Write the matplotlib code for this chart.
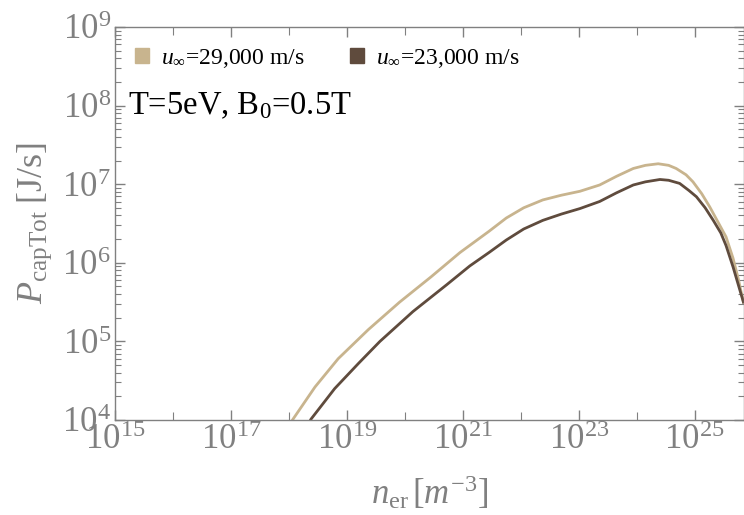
import numpy as np
import matplotlib
matplotlib.use("Agg")
import matplotlib.pyplot as plt
from matplotlib.patches import Patch
from matplotlib.ticker import LogLocator, FixedLocator, NullFormatter

plt.rcParams['font.family'] = ['Liberation Serif', 'DejaVu Serif']
plt.rcParams['mathtext.fontset'] = 'custom'
plt.rcParams['mathtext.rm'] = 'Liberation Serif'
plt.rcParams['mathtext.it'] = 'Liberation Serif:italic'
plt.rcParams['mathtext.bf'] = 'Liberation Serif:bold'

# data (log10 values)
log_n_fast = [17.95, 18.07, 18.45, 18.85, 19.37, 19.91, 20.45, 20.95, 21.45, 21.75, 22.05, 22.38, 22.7, 23.02,
              23.36, 23.65, 23.94, 24.15, 24.37, 24.55, 24.68, 24.85, 24.97, 25.12, 25.26, 25.4, 25.54, 25.66,
              25.75, 25.84]
log_p_fast = [3.87, 4.01, 4.42, 4.78, 5.15, 5.50, 5.82, 6.13, 6.40, 6.57, 6.70, 6.80, 6.86, 6.91,
              6.99, 7.10, 7.20, 7.24, 7.26, 7.24, 7.20, 7.12, 7.03, 6.88, 6.71, 6.52, 6.33, 6.06,
              5.80, 5.50]
log_n_slow = [18.28, 18.38, 18.79, 19.2, 19.57, 20.14, 20.72, 21.12, 21.45, 21.75, 22.05, 22.38, 22.7, 23.02,
              23.36, 23.65, 23.94, 24.15, 24.40, 24.55, 24.74, 24.9, 25.03, 25.18, 25.32, 25.45, 25.54, 25.66,
              25.78, 25.84]
log_p_slow = [3.87, 4.01, 4.40, 4.72, 5.00, 5.38, 5.72, 5.96, 6.13, 6.29, 6.43, 6.54, 6.62, 6.69,
              6.78, 6.89, 6.99, 7.03, 7.06, 7.05, 7.01, 6.92, 6.84, 6.70, 6.54, 6.38, 6.22, 5.95,
              5.65, 5.50]
labels = [r"$u_{\infty}$=29,000 m/s", r"$u_{\infty}$=23,000 m/s"]
colors = ["#c8b48e", "#5f4b3d"]

fig = plt.figure(figsize=(7.44, 5.15), dpi=100)
ax = fig.add_axes([115/744, 95/515, (744-115)/744, (420-27)/515])

ax.plot(10**np.array(log_n_fast), 10**np.array(log_p_fast), color=colors[0], lw=2.0)
ax.plot(10**np.array(log_n_slow), 10**np.array(log_p_slow), color=colors[1], lw=2.0)

ax.set_xscale('log')
ax.set_yscale('log')
ax.set_xlim(1e15, 10**25.85)
ax.set_ylim(1e4, 1e9)

gray = "#808080"
for s in ax.spines.values():
    s.set_color(gray)
    s.set_linewidth(1.0)

ax.xaxis.set_major_locator(FixedLocator([10.0**k for k in range(15, 27, 2)]))
ax.xaxis.set_minor_locator(FixedLocator([10.0**k for k in range(16, 27, 2)]))
ax.xaxis.set_minor_formatter(NullFormatter())
ax.set_xticklabels([r"$10^{%d}$" % k for k in range(15, 27, 2)])
ax.yaxis.set_major_locator(FixedLocator([10.0**k for k in range(4, 10)]))
ax.yaxis.set_minor_locator(LogLocator(base=10, subs=np.arange(2, 10), numticks=20))
ax.yaxis.set_minor_formatter(NullFormatter())
ax.set_yticklabels([r"$10^{%d}$" % k for k in range(4, 10)])

ax.tick_params(axis='both', which='major', direction='in', length=7, width=1.0,
               color=gray, labelcolor=gray, labelsize=25, top=True, right=True, pad=3)
ax.tick_params(axis='both', which='minor', direction='in', length=4, width=0.8,
               color=gray, top=True, right=True)
ax.tick_params(axis='x', which='minor', length=6)

ax.set_xlabel(r"$n_{\mathrm{er}}\,[m^{-3}]$", fontsize=25, color=gray, labelpad=12)
ax.set_ylabel(r"$P_{\mathrm{capTot}}\;[\mathrm{J/s}]$", fontsize=26, color=gray, labelpad=6)

handles = [Patch(facecolor=c, edgecolor=c) for c in colors]
leg = ax.legend(handles, labels, ncol=2, loc='upper left', frameon=False,
                fontsize=17, handlelength=0.6, handleheight=0.6, handletextpad=0.5,
                columnspacing=1.9, bbox_to_anchor=(0.0, 1.0), borderaxespad=0.45)

ax.text(0.02, 0.80, r"T=5eV, B$_0$=0.5T", transform=ax.transAxes, fontsize=23.5,
        color="black", ha='left', va='center')

fig.savefig("out.png", dpi=100)
